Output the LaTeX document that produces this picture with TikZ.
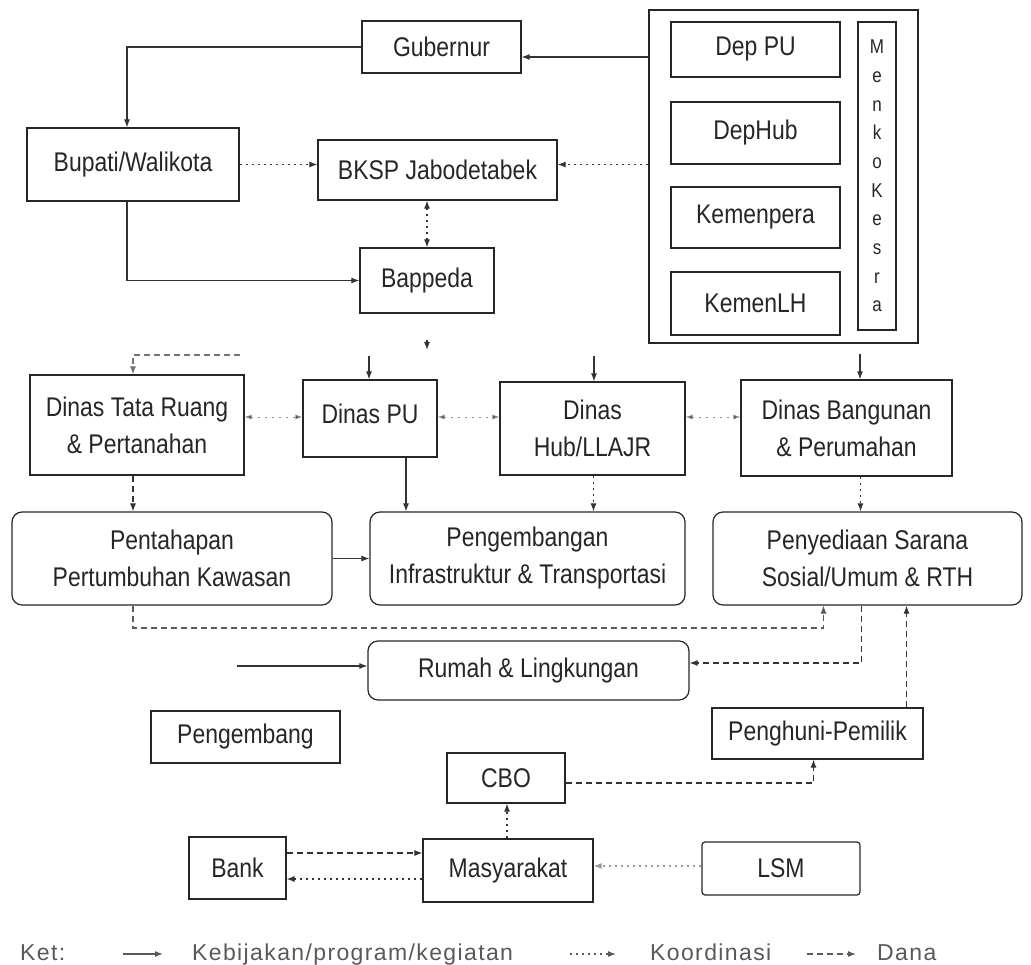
\documentclass[tikz,border=0pt]{standalone}
\usepackage{fontspec}
\setmainfont{Liberation Sans}[FakeStretch=0.85]
\newfontfamily\legfont{Liberation Sans}[LetterSpace=6]
\usetikzlibrary{arrows.meta,calc}
\tikzset{
  box/.style={draw=black!85, line width=1.2pt, inner sep=0pt, align=center, font=\fontsize{27}{37}\selectfont, text=black!85},
  rbox/.style={box, rounded corners=10pt},
  pol/.style={draw=black!80, line width=1.1pt, -{Latex[length=8pt,width=6pt]}},
  koor/.style={pol, dash pattern=on 2pt off 4pt},
  dana/.style={pol, dash pattern=on 6pt off 4pt},
  faint/.style={draw=black!45, line width=0.9pt, dash pattern=on 2pt off 5pt, {Latex[length=7pt,width=5pt,fill=black!80]}-{Latex[length=7pt,width=5pt,fill=black!80]}},
  legtext/.style={anchor=base west, inner sep=0pt, text=black!65, font=\legfont\fontsize{23}{28}\selectfont},
}
\begin{document}
\begin{tikzpicture}[x=1pt,y=-1pt]
\useasboundingbox (0,0) rectangle (1031,965);
% top section
\node[box,minimum width=159pt,minimum height=52pt] (gub) at (441.5,47) {Gubernur};
\node[box,minimum width=269pt,minimum height=333pt] (menko) at (783.5,176.5) {};
\node[box,minimum width=169pt,minimum height=55pt] (deppu) at (755.5,49.5) {Dep PU};
\node[box,minimum width=169pt,minimum height=62pt] (dephub) at (755.5,133) {DepHub};
\node[box,minimum width=169pt,minimum height=61pt] (kemenpera) at (755.5,217.5) {Kemenpera};
\node[box,minimum width=169pt,minimum height=63pt] (kemenlh) at (755.5,303.5) {KemenLH};
\node[box,minimum width=38pt,minimum height=308pt,font=\fontsize{20}{28.7}\selectfont] (kesra) at (877,176) {M\\e\\n\\k\\o\\K\\e\\s\\r\\a};
\node[box,minimum width=212pt,minimum height=73pt] (bupati) at (133,164.5) {Bupati/Walikota};
\node[box,minimum width=239pt,minimum height=60pt] (bksp) at (437.5,170) {BKSP Jabodetabek};
\node[box,minimum width=134pt,minimum height=65pt] (bappeda) at (427,280.5) {Bappeda};
% dinas row
\node[box,minimum width=214pt,minimum height=100pt] (dtr) at (137,425) {Dinas Tata Ruang\\\& Pertanahan};
\node[box,minimum width=134pt,minimum height=77pt] (dpu) at (370,418.5) {\raisebox{9pt}{Dinas PU}};
\node[box,minimum width=185pt,minimum height=93pt] (dhub) at (592.5,428.5) {Dinas\\Hub/LLAJR};
\node[box,minimum width=211pt,minimum height=96pt] (dbang) at (846.5,428) {Dinas Bangunan\\\& Perumahan};
% program row
\node[rbox,minimum width=320pt,minimum height=93pt] (pent) at (172,558.5) {Pentahapan\\Pertumbuhan Kawasan};
\node[rbox,minimum width=315pt,minimum height=93pt] (peng) at (527.5,558.5) {Pengembangan\\Infrastruktur \& Transportasi};
\node[rbox,minimum width=309pt,minimum height=93pt] (peny) at (867.5,558.5) {Penyediaan Sarana\\Sosial/Umum \& RTH};
\node[rbox,minimum width=321pt,minimum height=59pt] (rumah) at (528.5,670.5) {Rumah \& Lingkungan};
% actors
\node[box,minimum width=189pt,minimum height=52pt] (pengembang) at (245.5,737) {Pengembang};
\node[box,minimum width=211pt,minimum height=51pt] (penghuni) at (817.5,733.5) {Penghuni-Pemilik};
\node[box,minimum width=118pt,minimum height=50pt] (cbo) at (506,778) {CBO};
\node[box,minimum width=97pt,minimum height=62pt] (bank) at (237.5,868) {Bank};
\node[box,minimum width=170pt,minimum height=63pt] (masy) at (508,870.5) {Masyarakat};
\node[box,rounded corners=3pt,minimum width=158pt,minimum height=53pt] (lsm) at (781,868.5) {LSM};

% --- connectors top
\coordinate (g1) at ([yshift=-10pt]gub.east);
\draw[pol] (menko.west |- g1) -- (g1);
\draw[pol] (gub.west) -| ([xshift=-6pt]bupati.north);
\draw[koor] (bupati.east) -- (bupati.east -| bksp.west);
\draw[koor] (menko.west |- bupati.east) -- (bksp.east |- bupati.east);
\draw[koor,{Latex[length=8pt,width=6pt]}-{Latex[length=8pt,width=6pt]}] (bksp.south -| bappeda.north) -- (bappeda.north);
\draw[pol] ([xshift=-6pt]bupati.south) |- (bappeda.west);
% bus into dinas
\coordinate (busR) at (240,355);
\draw[dana,draw=black!55] (busR) -| ([xshift=-4pt]dtr.north);
\coordinate (bs) at (427,340);
\draw[pol] (bs) -- ++(0,10);
\coordinate (tpu) at (369,356);
\draw[pol] (tpu) -- (tpu |- dpu.north);
\coordinate (thub) at (594,356);
\draw[pol] (thub) -- (thub |- dhub.north);
\coordinate (tbang) at (860,354);
\draw[pol] (tbang) -- (tbang |- dbang.north);
% koordinasi among dinas
\coordinate (kd) at (0,417);
\draw[faint] (dtr.east |- kd) -- (dpu.west |- kd);
\draw[faint] (dpu.east |- kd) -- (dhub.west |- kd);
\draw[faint] (dhub.east |- kd) -- (dbang.west |- kd);
% dinas to programs
\draw[dana] ([xshift=-4pt]dtr.south) -- ([xshift=-4pt]dtr.south |- pent.north);
\draw[pol] ([xshift=36pt]dpu.south) -- ([xshift=36pt]dpu.south |- peng.north);
\draw[koor] ([xshift=1pt]dhub.south) -- ([xshift=1pt]dhub.south |- peng.north);
\draw[koor] ([xshift=14pt]dbang.south) -- ([xshift=14pt]dbang.south |- peny.north);
\draw[pol] (pent.east) -- (peng.west);
% lower connectors
\coordinate (lp) at (0,628);
\draw[dana,draw=black!65] ([xshift=-39pt]pent.south) -- ([xshift=-39pt]pent.south |- lp) -| ([xshift=-44pt]peny.south);
\coordinate (lr) at (0,663);
\draw[dana] ([xshift=-6pt]peny.south) -- ([xshift=-6pt]peny.south |- lr) -- (rumah.east |- lr);
\coordinate (rs) at (237,666);
\draw[pol] (rs) -- (rs -| rumah.west);
\draw[dana] ([xshift=89pt]penghuni.north) -- ([xshift=89pt]penghuni.north |- peny.south);
\coordinate (lc) at (0,783);
\draw[dana] (cbo.east |- lc) -| ([xshift=-4pt]penghuni.south);
\draw[koor] ([xshift=-1pt]masy.north) -- ([xshift=-1pt]masy.north |- cbo.south);
\coordinate (bm1) at (0,853);
\coordinate (bm2) at (0,879);
\draw[dana] (bank.east |- bm1) -- (masy.west |- bm1);
\draw[koor] (masy.west |- bm2) -- (bank.east |- bm2);
\coordinate (lm) at (0,866);
\draw[koor,draw=black!40] (lsm.west |- lm) -- (masy.east |- lm);

% legend
\node[legtext] (ket) at (20,960) {Ket:};
\coordinate (l1a) at (123,954);
\coordinate (l1b) at (163,954);
\draw[pol,draw=black!65] (l1a) -- (l1b);
\node[legtext] (leg1) at (192,960) {Kebijakan/program/kegiatan};
\coordinate (l2a) at (570,954);
\coordinate (l2b) at (616,954);
\draw[koor,draw=black!65] (l2a) -- (l2b);
\node[legtext] (leg2) at (650,960) {Koordinasi};
\coordinate (l3a) at (807,954);
\coordinate (l3b) at (856,954);
\draw[dana,draw=black!65] (l3a) -- (l3b);
\node[legtext] (leg3) at (877,960) {Dana};
\end{tikzpicture}
\end{document}
